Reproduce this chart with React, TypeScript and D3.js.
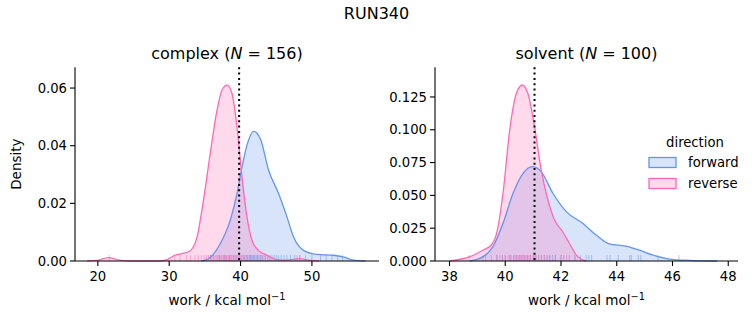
import React from "react";
import * as d3 from "d3";

// ---------- data ----------
const complexForwardX = [34.5, 35.5, 37.15, 38.55, 39.5, 40.2, 40.9, 41.82, 42.76, 43.93, 45.33, 46.5, 47.43, 48.83, 50.7, 53.0, 54.4, 55.8, 57.5];
const complexForwardY = [0, 0.0008, 0.006, 0.0141, 0.0234, 0.0326, 0.0402, 0.045, 0.0425, 0.0315, 0.0234, 0.0153, 0.0083, 0.0037, 0.0023, 0.002, 0.0014, 0.0003, 0];
const complexReverseX = [18.5, 19.8, 21.5, 23.2, 25, 28.5, 29.6, 30.8, 32.0, 32.9, 33.9, 34.8, 35.75, 36.7, 37.4, 38.1, 38.8, 39.5, 40.2, 40.9, 41.6, 42.5, 43.7, 45.1, 46.5, 48.2, 49.8, 51];
const complexReverseY = [0, 0.0002, 0.0012, 0.0002, 0, 0, 0.0004, 0.002, 0.0027, 0.0035, 0.0083, 0.021, 0.0373, 0.0523, 0.0593, 0.061, 0.0581, 0.0465, 0.0292, 0.0153, 0.0072, 0.0037, 0.002, 0.0005, 0.0003, 0.0008, 0.0002, 0];

const solventForwardX = [38.73, 39.21, 39.56, 39.92, 40.28, 40.64, 40.97, 41.29, 41.71, 42.19, 42.78, 43.26, 43.73, 44.33, 44.8, 45.28, 45.88, 46.59, 47.6];
const solventForwardY = [0, 0.0033, 0.0109, 0.0287, 0.0516, 0.0668, 0.0719, 0.0681, 0.0516, 0.0376, 0.0287, 0.0198, 0.013, 0.0114, 0.0084, 0.0046, 0.0015, 0.0005, 0];
const solventReverseX = [38.02, 38.73, 39.21, 39.5, 39.69, 39.92, 40.16, 40.4, 40.61, 40.81, 41.05, 41.29, 41.53, 41.77, 42.06, 42.3, 42.6, 42.9];
const solventReverseY = [0, 0.0033, 0.0084, 0.0122, 0.0211, 0.0516, 0.0998, 0.1278, 0.1341, 0.1278, 0.1024, 0.0694, 0.0465, 0.0313, 0.0223, 0.0135, 0.0033, 0];

const complexForwardRug = [35.8, 37.0, 37.8, 38.5, 39.0, 39.4, 39.8, 40.1, 40.4, 40.6, 40.8, 41.0, 41.2, 41.4, 41.5, 41.7, 41.9, 42.0, 42.2, 42.4, 42.6, 42.8, 43.0, 43.3, 43.5, 43.8, 44.1, 44.4, 44.7, 45.0, 45.3, 45.7, 46.1, 46.5, 47.0, 47.6, 48.3, 49.1, 50.0, 51.2, 52.0, 52.8, 53.6, 54.3];
const complexReverseRug = [21.6, 30.8, 31.5, 32.4, 33.0, 33.6, 34.1, 34.5, 34.9, 35.2, 35.5, 35.8, 36.0, 36.2, 36.4, 36.6, 36.8, 37.0, 37.1, 37.3, 37.4, 37.6, 37.7, 37.9, 38.0, 38.1, 38.3, 38.4, 38.5, 38.7, 38.8, 39.0, 39.1, 39.3, 39.5, 39.7, 39.9, 40.2, 40.5, 40.9, 41.3, 41.8, 42.4, 43.1, 44.0, 47.9, 48.3];
const solventForwardRug = [39.3, 39.7, 39.9, 40.0, 40.2, 40.3, 40.4, 40.5, 40.6, 40.7, 40.8, 40.9, 41.0, 41.1, 41.2, 41.3, 41.4, 41.5, 41.6, 41.7, 41.8, 42.0, 42.1, 42.3, 42.5, 42.7, 42.9, 43.0, 43.1, 43.65, 43.76, 44.05, 44.47, 44.52, 44.77, 44.86, 45.48, 46.23];
const solventReverseRug = [38.7, 39.2, 39.5, 39.7, 39.8, 39.9, 40.0, 40.1, 40.15, 40.2, 40.3, 40.35, 40.4, 40.45, 40.5, 40.55, 40.6, 40.65, 40.7, 40.75, 40.8, 40.85, 40.9, 41.0, 41.05, 41.1, 41.2, 41.3, 41.4, 41.5, 41.6, 41.8, 42.0, 42.2, 42.5];

const complexXTicks = [20, 30, 40, 50];
const complexYTicks = [0, 0.02, 0.04, 0.06];
const solventXTicks = [38, 40, 42, 44, 46, 48];
const solventYTicks = [0, 0.025, 0.05, 0.075, 0.1, 0.125];

const complexMean = 39.8;
const solventMean = 41.05;

const FWD = "#6495ED";
const REV = "#FF69B4";
const FONT = "DejaVu Sans, sans-serif";

type PanelProps = {
  left: number; right: number; top: number; bottom: number;
  xDomain: [number, number]; yDomain: [number, number];
  xTicks: number[]; yTicks: number[]; yFmt: string;
  name: string; n: number;
  fx: number[]; fy: number[]; rx: number[]; ry: number[];
  fRug: number[]; rRug: number[]; vline: number; showYLabel: boolean;
};

function Panel(p: PanelProps) {
  const x = d3.scaleLinear().domain(p.xDomain).range([p.left, p.right]);
  const y = d3.scaleLinear().domain(p.yDomain).range([p.bottom, p.top]);
  const area = d3.area<[number, number]>()
    .x((d) => x(d[0])).y0(y(0)).y1((d) => y(d[1])).curve(d3.curveMonotoneX);
  const line = d3.line<[number, number]>()
    .x((d) => x(d[0])).y((d) => y(d[1])).curve(d3.curveMonotoneX);
  const fData = p.fx.map((v, i) => [v, p.fy[i]] as [number, number]);
  const rData = p.rx.map((v, i) => [v, p.ry[i]] as [number, number]);
  const fmt = d3.format(p.yFmt);
  const rugH = 6;
  const cx = (p.left + p.right) / 2;
  return (
    <g fontFamily={FONT}>
      <path d={area(fData) || ""} fill={FWD} fillOpacity={0.25} />
      <path d={area(rData) || ""} fill={REV} fillOpacity={0.25} />
      {p.fRug.map((v, i) => (
        <line key={"f" + i} x1={x(v)} x2={x(v)} y1={p.bottom} y2={p.bottom - rugH} stroke={FWD} strokeOpacity={0.5} strokeWidth={1} />
      ))}
      {p.rRug.map((v, i) => (
        <line key={"r" + i} x1={x(v)} x2={x(v)} y1={p.bottom} y2={p.bottom - rugH} stroke={REV} strokeOpacity={0.5} strokeWidth={1} />
      ))}
      <path d={line(fData) || ""} fill="none" stroke={FWD} strokeWidth={1.3} />
      <path d={line(rData) || ""} fill="none" stroke={REV} strokeWidth={1.3} />
      <line x1={x(p.vline)} x2={x(p.vline)} y1={p.top} y2={p.bottom} stroke="#000" strokeWidth={2} strokeDasharray="2,3.3" />
      {/* spines */}
      <line x1={p.left} x2={p.left} y1={p.top} y2={p.bottom} stroke="#000" strokeWidth={1.1} />
      <line x1={p.left} x2={p.right} y1={p.bottom} y2={p.bottom} stroke="#000" strokeWidth={1.1} />
      {p.xTicks.map((t) => (
        <g key={"xt" + t}>
          <line x1={x(t)} x2={x(t)} y1={p.bottom} y2={p.bottom + 5} stroke="#000" strokeWidth={1.1} />
          <text x={x(t)} y={p.bottom + 20} textAnchor="middle" fontSize={13.2} fill="#000">{t}</text>
        </g>
      ))}
      {p.yTicks.map((t) => (
        <g key={"yt" + t}>
          <line x1={p.left} x2={p.left - 5} y1={y(t)} y2={y(t)} stroke="#000" strokeWidth={1.1} />
          <text x={p.left - 8} y={y(t)} dy="0.35em" textAnchor="end" fontSize={13.2} fill="#000">{fmt(t)}</text>
        </g>
      ))}
      <text x={cx} y={p.bottom + 44} textAnchor="middle" fontSize={13.5} fill="#000">
        work / kcal mol<tspan dy={-5} fontSize={9.8}>−1</tspan>
      </text>
      {p.showYLabel && (
        <text transform={`translate(${p.left - 54},${(p.top + p.bottom) / 2}) rotate(-90)`} textAnchor="middle" fontSize={13.5} fill="#000">Density</text>
      )}
      <text x={cx} y={p.top - 8} textAnchor="middle" fontSize={16} fill="#000">
        {p.name} (<tspan fontStyle="italic">N</tspan> = {p.n})
      </text>
    </g>
  );
}

export default function App() {
  return (
    <svg width={753} height={325} style={{ position: "absolute", left: 0, top: 0, background: "#fff" }}>
      <rect width={753} height={325} fill="#fff" />
      <text x={376.5} y={19} textAnchor="middle" fontSize={16} fontFamily={FONT} fill="#000">RUN340</text>
      <Panel left={75} right={379} top={67.3} bottom={261} xDomain={[16.8, 59.4]} yDomain={[0, 0.0672]}
        xTicks={complexXTicks} yTicks={complexYTicks} yFmt=".2f" name="complex" n={156}
        fx={complexForwardX} fy={complexForwardY} rx={complexReverseX} ry={complexReverseY}
        fRug={complexForwardRug} rRug={complexReverseRug} vline={complexMean} showYLabel={true} />
      <Panel left={435} right={738} top={67.3} bottom={261} xDomain={[37.48, 48.35]} yDomain={[0, 0.1476]}
        xTicks={solventXTicks} yTicks={solventYTicks} yFmt=".3f" name="solvent" n={100}
        fx={solventForwardX} fy={solventForwardY} rx={solventReverseX} ry={solventReverseY}
        fRug={solventForwardRug} rRug={solventReverseRug} vline={solventMean} showYLabel={false} />
      <g fontFamily={FONT}>
        <text x={695} y={142} dy="0.35em" textAnchor="middle" fontSize={13.2} fill="#000">direction</text>
        <rect x={649} y={157.5} width={27} height={10} fill={FWD} fillOpacity={0.25} stroke={FWD} strokeWidth={1.3} />
        <text x={688} y={162.5} dy="0.35em" fontSize={13.2} fill="#000">forward</text>
        <rect x={649} y={178.5} width={27} height={10} fill={REV} fillOpacity={0.25} stroke={REV} strokeWidth={1.3} />
        <text x={688} y={183.5} dy="0.35em" fontSize={13.2} fill="#000">reverse</text>
      </g>
    </svg>
  );
}
